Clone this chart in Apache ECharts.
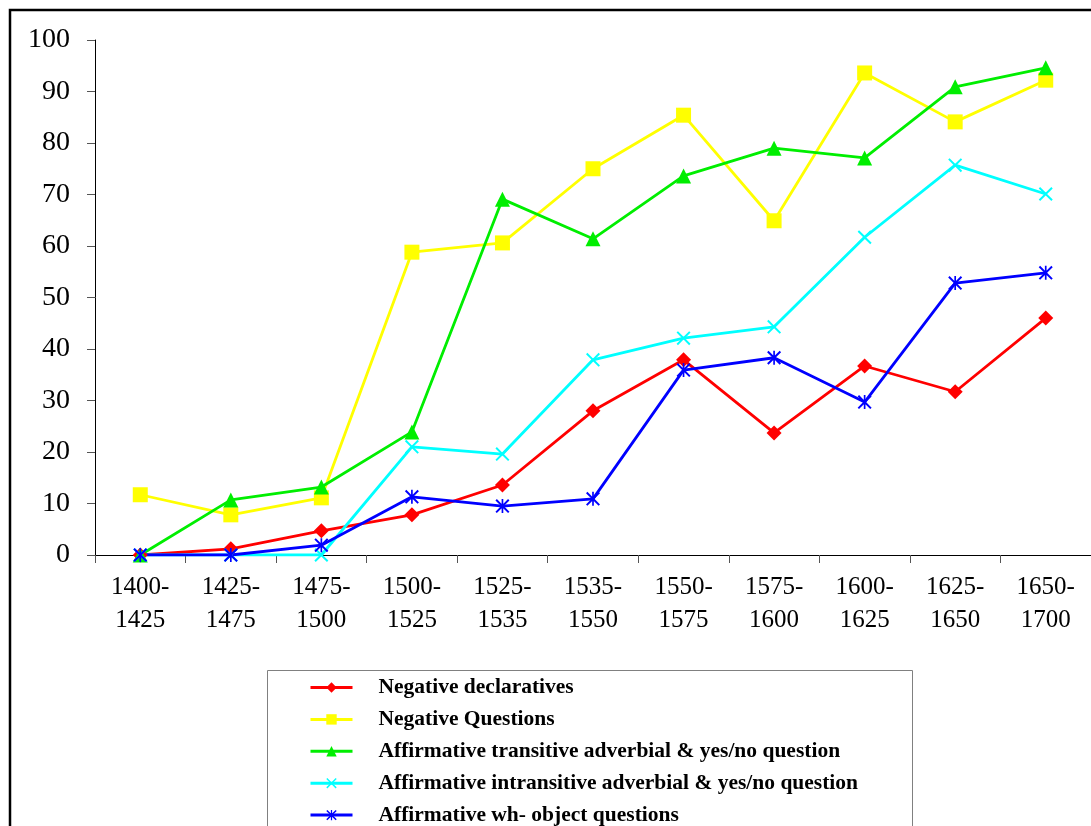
<!DOCTYPE html>
<html>
<head>
<meta charset="utf-8">
<script src="https://cdn.jsdelivr.net/npm/echarts@6/dist/echarts.min.js"></script>
<style>
	html, body { margin: 0; padding: 0; background: #fff; }
	#chart { width: 1091px; height: 826px; }
</style>
</head>
<body>
<div id="chart"></div>
<script>
	// periods on the x axis
	var periods = ['1400-\n1425', '1425-\n1475', '1475-\n1500', '1500-\n1525', '1525-\n1535',
		'1535-\n1550', '1550-\n1575', '1575-\n1600', '1600-\n1625', '1625-\n1650', '1650-\n1700']

	// values
	var negDecl = [0, 1.2, 4.7, 7.8, 13.6, 28, 37.9, 23.7, 36.7, 31.7, 46]
	var negQuest = [11.7, 7.8, 11.1, 58.8, 60.6, 75, 85.4, 64.9, 93.6, 84.1, 92.2]
	var affTrans = [0, 10.7, 13.2, 23.9, 69.1, 61.4, 73.6, 79, 77.1, 90.9, 94.6]
	var affIntrans = [0, 0, 0, 21, 19.6, 37.9, 42.1, 44.3, 61.7, 75.7, 70.1]
	var affWh = [0, 0, 1.9, 11.3, 9.5, 10.9, 35.9, 38.3, 29.7, 52.8, 54.8]

	var yTicks = [0, 100, 10]

	var names = ['Negative declaratives', 'Negative Questions',
		'Affirmative transitive adverbial & yes/no question',
		'Affirmative intransitive adverbial & yes/no question',
		'Affirmative wh- object questions']

	// marker shapes
	var crossPath = 'path://M0,1L1,0L5,4L9,0L10,1L6,5L10,9L9,10L5,6L1,10L0,9L4,5Z'
	var starPath = 'path://M0,1L1,0L5,4L9,0L10,1L6,5L10,9L9,10L5,6L1,10L0,9L4,5Z M4.4,0L5.6,0L5.6,10L4.4,10Z'

	function makeSeries(name, data, color, symbol, size) {
		return {
			name: name,
			type: 'line',
			data: data,
			symbol: symbol,
			symbolSize: size,
			showAllSymbol: true,
			lineStyle: { color: color, width: 2.8 },
			itemStyle: { color: color },
			emphasis: { disabled: true }
		}
	}

	var chart = echarts.init(document.getElementById('chart'))
	var font = '"Liberation Serif", "Times New Roman", serif'
	var option = {
		animation: false,
		backgroundColor: '#fff',
		graphic: [
			// outer frame (cut off on right and bottom)
			{ type: 'rect', shape: { x: 10, y: 10, width: 1100, height: 840 },
				style: { fill: 'none', stroke: '#000', lineWidth: 2.5 }, z: 0 },
			// legend box
			{ type: 'rect', shape: { x: 267.5, y: 670.5, width: 645, height: 180 },
				style: { fill: '#fff', stroke: '#808080', lineWidth: 1 }, z: 0 }
		],
		grid: { left: 95, top: 40, width: 998, height: 515 },
		legend: {
			orient: 'vertical',
			left: 309,
			top: 676.5,
			height: 300,
			itemWidth: 42,
			itemHeight: 13,
			itemGap: 9.9,
			padding: 0,
			data: names,
			lineStyle: { width: 3 },
			textStyle: { fontFamily: font, fontWeight: 'bold', fontSize: 21.5, lineHeight: 21, color: '#000', padding: [0, 0, 0, 21] }
		},
		xAxis: {
			type: 'category',
			data: periods,
			boundaryGap: true,
			axisLine: { lineStyle: { color: '#000', width: 1 } },
			axisTick: { show: true, length: 8, lineStyle: { color: '#555' } },
			axisLabel: { fontFamily: font, fontSize: 25, color: '#000', lineHeight: 33, margin: 16, interval: 0 },
			splitLine: { show: false }
		},
		yAxis: {
			type: 'value',
			min: yTicks[0],
			max: yTicks[1],
			interval: yTicks[2],
			axisLine: { show: true, lineStyle: { color: '#000', width: 1 } },
			axisTick: { show: true, length: 8, lineStyle: { color: '#555' } },
			axisLabel: { fontFamily: font, fontSize: 28, color: '#000', margin: 25 },
			splitLine: { show: false }
		},
		series: [
			makeSeries(names[0], negDecl, '#ff0000', 'diamond', 15),
			makeSeries(names[1], negQuest, '#ffff00', 'rect', 15),
			makeSeries(names[2], affTrans, '#00ee00', 'triangle', 15),
			makeSeries(names[3], affIntrans, '#00ffff', crossPath, 14),
			makeSeries(names[4], affWh, '#0000ff', starPath, 14)
		]
	}
	chart.setOption(option)
</script>
</body>
</html>
